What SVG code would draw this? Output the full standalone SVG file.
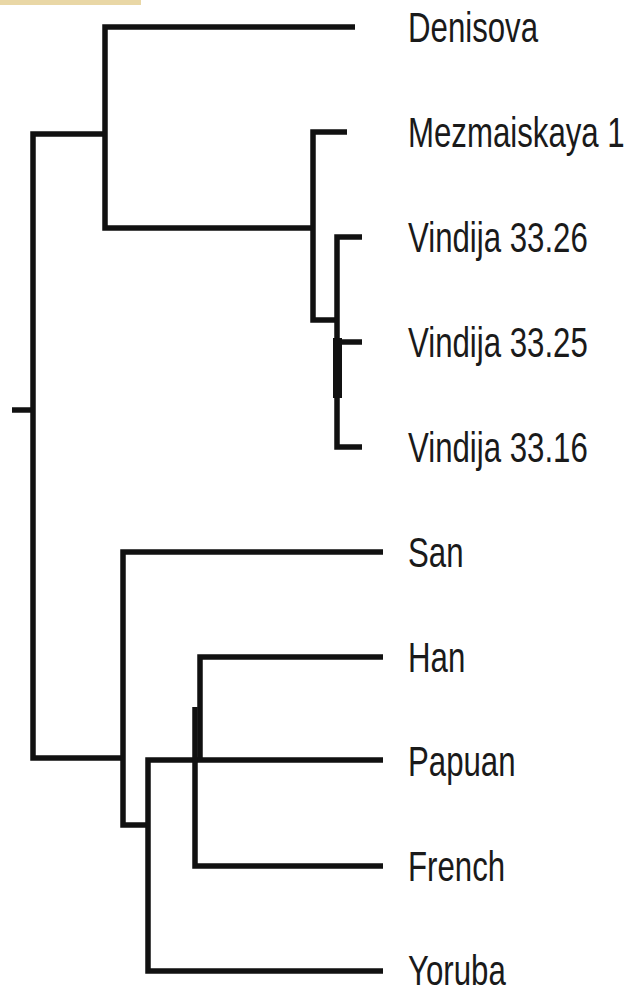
<svg xmlns="http://www.w3.org/2000/svg" width="629" height="990" viewBox="0 0 629 990">
<style>
.br{fill:none;stroke:#111;stroke-width:5.5;stroke-linejoin:miter;stroke-linecap:butt}
.lb{font-family:"Liberation Sans",Arial,sans-serif;font-size:42px;fill:#1a1a1a}
</style>
<rect x="0" y="0" width="629" height="990" fill="#fff"/>
<rect x="0" y="0" width="141" height="5" fill="#e9d7a6"/>
<g id="connectors">
<path class="br" d="M12,410 H33"/>
<path class="br" d="M105,134 H33 V758 H123"/>
<path class="br" d="M355,27 H105 V228 H313"/>
<path class="br" d="M347,132 H313 V320 H337"/>
<path class="br" d="M362,237 H337 V447 H362"/>
<path class="br" d="M337,342 H362"/>
<rect x="333" y="338" width="9" height="60" fill="#111"/>
<path class="br" d="M383,552 H123 V825 H148"/>
<path class="br" d="M383,760 H148 V971 H383"/>
<path class="br" d="M383,657 H200 V760"/>
<path class="br" d="M195,707 V866 H383"/>
</g>
<g id="denisova"><text class="lb" transform="translate(408,42) scale(0.743,1)">Denisova</text></g>
<g id="mezmaiskaya1"><text class="lb" transform="translate(408,147) scale(0.743,1)">Mezmaiskaya 1</text></g>
<g id="vindija3326"><text class="lb" transform="translate(408,252) scale(0.743,1)">Vindija 33.26</text></g>
<g id="vindija3325"><text class="lb" transform="translate(408,357) scale(0.743,1)">Vindija 33.25</text></g>
<g id="vindija3316"><text class="lb" transform="translate(408,462) scale(0.743,1)">Vindija 33.16</text></g>
<g id="san"><text class="lb" transform="translate(408,567) scale(0.743,1)">San</text></g>
<g id="han"><text class="lb" transform="translate(408,672) scale(0.743,1)">Han</text></g>
<g id="papuan"><text class="lb" transform="translate(408,776) scale(0.743,1)">Papuan</text></g>
<g id="french"><text class="lb" transform="translate(408,881) scale(0.743,1)">French</text></g>
<g id="yoruba"><text class="lb" transform="translate(408,985) scale(0.743,1)">Yoruba</text></g>
</svg>
